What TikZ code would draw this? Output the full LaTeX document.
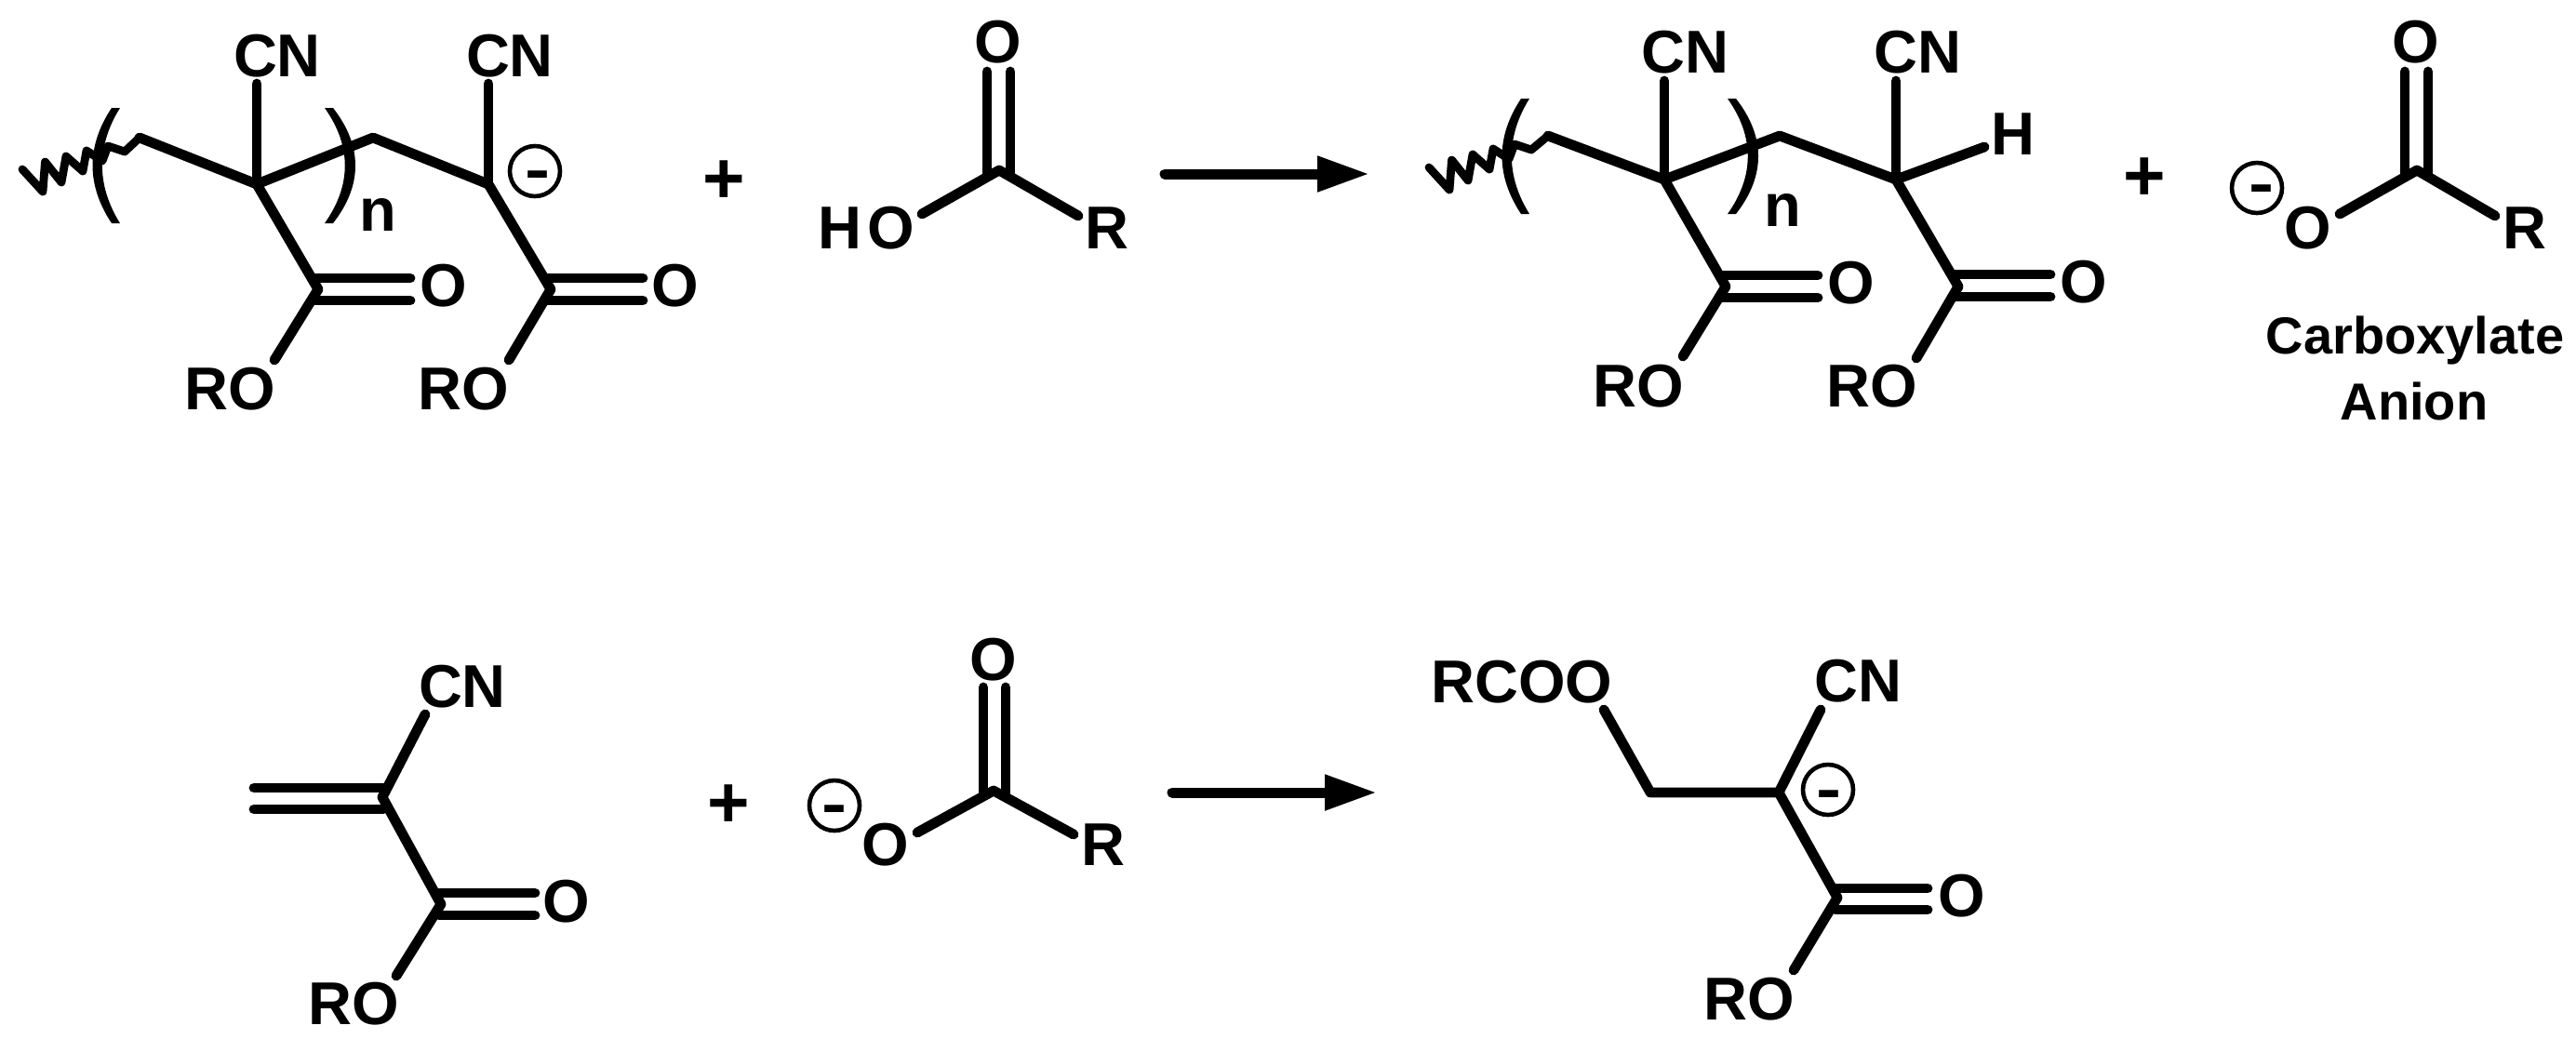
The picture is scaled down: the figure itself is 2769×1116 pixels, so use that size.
\documentclass[tikz,border=0pt]{standalone}
\usepackage{fontspec}
\setmainfont{Liberation Sans}
\usetikzlibrary{arrows.meta}
\tikzset{
  bond/.style={line width=2.7pt,line cap=round,line join=round},
  wavy/.style={line width=2.2pt,line cap=round,line join=round},
  atom/.style={font=\fontsize{16.25}{18}\selectfont\bfseries,inner sep=0pt,outer sep=0pt,anchor=base},
  caption/.style={font=\fontsize{14}{16}\selectfont\bfseries,inner sep=0pt,outer sep=0pt,anchor=base},
  plussign/.style={font=\fontsize{19.5}{20}\selectfont\bfseries,inner sep=0pt,outer sep=0pt,anchor=center},
  ring/.style={circle,draw,line width=1.15pt,minimum size=13.5pt,inner sep=0pt,outer sep=0pt},
  minussign/.style={font=\fontsize{16.25}{18}\selectfont\bfseries,inner sep=0pt,outer sep=0pt,anchor=center},
  rxn/.style={line width=2.75pt,line cap=round,-{Triangle[length=14pt,width=9pt]}}
}
\newcommand{\minusglyph}{\scalebox{1.25}[1]{-}}
\newcommand{\lparen}[2]{\fill[shift={(#1,#2)}] (120,116) .. controls (92.7,157) and (92.7,199) .. (120,240) -- (129,240) .. controls (103.5,199) and (103.5,157) .. (129,116) -- cycle;}
\newcommand{\rparen}[2]{\fill[shift={(#1,#2)}] (349,116) .. controls (378,157) and (378,199) .. (349,240) -- (358,240) .. controls (390,199) and (390,157) .. (358,116) -- cycle;}
\begin{document}
\begin{tikzpicture}[x=0.25pt,y=-0.25pt]
\path[fill=white,use as bounding box] (0,0) rectangle (2769,1116);

% ---------- top left: polymer anion
\coordinate (aw0) at (24,182);
\coordinate (a1) at (150,148);
\coordinate (a2) at (276,198);
\coordinate (a3) at (401,148);
\coordinate (a4) at (525,198);
\coordinate (a5) at (342,311);
\coordinate (a6) at (592,311);
\draw[wavy] (aw0) -- (46,206) -- (48.5,174) -- (66,196) -- (71,168) -- (89,184) -- (93,162) -- (110,173) -- (116,157) -- (134,163) -- (a1);
\draw[bond] (a1) -- (a2) -- (a3) -- (a4);
\node[atom] (acn1) at (298,82) {CN};
\node[atom] (acn2) at (548,82) {CN};
\coordinate (acn1b) at (276,90);
\coordinate (acn2b) at (525,90);
\draw[bond] (acn1b) -- (a2);
\draw[bond] (acn2b) -- (a4);
\draw[bond] (a2) -- (a5);
\draw[bond] (a4) -- (a6);
\coordinate (a5u) at (339,299); \coordinate (a5ue) at (441,299);
\coordinate (a5l) at (339,323); \coordinate (a5le) at (441,323);
\draw[bond] (a5u) -- (a5ue);
\draw[bond] (a5l) -- (a5le);
\coordinate (a6u) at (589,299); \coordinate (a6ue) at (691,299);
\coordinate (a6l) at (589,323); \coordinate (a6le) at (691,323);
\draw[bond] (a6u) -- (a6ue);
\draw[bond] (a6l) -- (a6le);
\node[atom] (ao1) at (477,329) {O};
\node[atom] (ao2) at (726,329) {O};
\coordinate (aro1b) at (295,387);
\coordinate (aro2b) at (547,387);
\draw[bond] (a5) -- (aro1b);
\draw[bond] (a6) -- (aro2b);
\node[atom] (aro1) at (247,440) {RO};
\node[atom] (aro2) at (498,440) {RO};
\lparen{0}{0}
\rparen{0}{0}
\node[atom] (an) at (406,248) {n};
\node[ring] (aring) at (575,184) {};
\node[minussign] (aminus) at (578,194.5) {\minusglyph};
\node[plussign] (plus1) at (778,196) {+};

% ---------- top middle: acid
\coordinate (b0) at (1074,183);
\coordinate (bho) at (991,230);
\coordinate (br) at (1159,232);
\coordinate (bd1) at (1061,188); \coordinate (bd1e) at (1061,77);
\coordinate (bd2) at (1086,188); \coordinate (bd2e) at (1086,77);
\draw[bond] (bho) -- (b0) -- (br);
\draw[bond] (bd1) -- (bd1e);
\draw[bond] (bd2) -- (bd2e);
\node[atom] (boa) at (1073,67) {O};
\node[atom] (bhotext) at (931,267) {H\kern1.5pt O};
\node[atom] (brtext) at (1190,267) {R};

% ---------- top arrow
\coordinate (ar1s) at (1252,187);
\coordinate (ar1e) at (1472,187);
\draw[rxn] (ar1s) -- (ar1e);

% ---------- top right: polymer
\coordinate (cw0) at (1536,180);
\coordinate (c1) at (1664,146);
\coordinate (c2) at (1789,193);
\coordinate (c3) at (1913,146);
\coordinate (c4) at (2038,193);
\coordinate (c5) at (1855,308);
\coordinate (c6) at (2105,308);
\draw[wavy] (cw0) -- (1558,204) -- (1560.5,172) -- (1578,194) -- (1583,166) -- (1601,182) -- (1605,160) -- (1622,171) -- (1628,155) -- (1646,161) -- (c1);
\draw[bond] (c1) -- (c2) -- (c3) -- (c4);
\node[atom] (ccn1) at (1811,78) {CN};
\node[atom] (ccn2) at (2061,78) {CN};
\coordinate (ccn1b) at (1789,87);
\coordinate (ccn2b) at (2038,87);
\draw[bond] (ccn1b) -- (c2);
\draw[bond] (ccn2b) -- (c4);
\coordinate (chb) at (2133,158);
\draw[bond] (c4) -- (chb);
\node[atom] (ch) at (2164,166) {H};
\draw[bond] (c2) -- (c5);
\draw[bond] (c4) -- (c6);
\coordinate (c5u) at (1852,296); \coordinate (c5ue) at (1954,296);
\coordinate (c5l) at (1852,320); \coordinate (c5le) at (1954,320);
\draw[bond] (c5u) -- (c5ue);
\draw[bond] (c5l) -- (c5le);
\coordinate (c6u) at (2102,295); \coordinate (c6ue) at (2204,295);
\coordinate (c6l) at (2102,319); \coordinate (c6le) at (2204,319);
\draw[bond] (c6u) -- (c6ue);
\draw[bond] (c6l) -- (c6le);
\node[atom] (co1) at (1990,326) {O};
\node[atom] (co2) at (2240,325) {O};
\coordinate (cro1b) at (1809,383);
\coordinate (cro2b) at (2060,385);
\draw[bond] (c5) -- (cro1b);
\draw[bond] (c6) -- (cro2b);
\node[atom] (cro1) at (1761,437) {RO};
\node[atom] (cro2) at (2012,437) {RO};
\lparen{1515}{-10}
\rparen{1508}{-10}
\node[atom] (cn) at (1916,243) {n};
\node[plussign] (plus2) at (2305,193) {+};

% ---------- far right: carboxylate
\coordinate (d0) at (2598,183);
\coordinate (do) at (2515,230);
\coordinate (dr) at (2682,232);
\coordinate (dd1) at (2585,188); \coordinate (dd1e) at (2585,77);
\coordinate (dd2) at (2610,188); \coordinate (dd2e) at (2610,77);
\draw[bond] (do) -- (d0) -- (dr);
\draw[bond] (dd1) -- (dd1e);
\draw[bond] (dd2) -- (dd2e);
\node[atom] (doa) at (2597,67) {O};
\node[atom] (dob) at (2481,267) {O};
\node[atom] (drtext) at (2714,267) {R};
\node[ring] (dring) at (2426,202) {};
\node[minussign] (dminus) at (2430.5,209.5) {\minusglyph};
\node[caption] (capa) at (2596,380) {Carboxylate};
\node[caption] (capb) at (2595,451) {Anion};

% ---------- bottom left: monomer
\coordinate (e0) at (411,857);
\coordinate (ecn) at (457,768);
\coordinate (e1) at (474,972);
\coordinate (edu) at (273,847); \coordinate (edue) at (412,847);
\coordinate (edl) at (273,870); \coordinate (edle) at (412,870);
\coordinate (e1u) at (472,960); \coordinate (e1ue) at (575,960);
\coordinate (e1l) at (472,984); \coordinate (e1le) at (575,984);
\coordinate (erob) at (426,1049);
\draw[bond] (ecn) -- (e0) -- (e1) -- (erob);
\draw[bond] (edu) -- (edue);
\draw[bond] (edl) -- (edle);
\draw[bond] (e1u) -- (e1ue);
\draw[bond] (e1l) -- (e1le);
\node[atom] (ecntext) at (497,760) {CN};
\node[atom] (eo) at (609,991) {O};
\node[atom] (erotext) at (380,1101) {RO};
\node[plussign] (plus3) at (783,867) {+};

% ---------- bottom middle: carboxylate
\coordinate (f0) at (1068,850);
\coordinate (fo) at (986,895);
\coordinate (fr) at (1154,897);
\coordinate (fd1) at (1057,855); \coordinate (fd1e) at (1057,739);
\coordinate (fd2) at (1081,855); \coordinate (fd2e) at (1081,739);
\draw[bond] (fo) -- (f0) -- (fr);
\draw[bond] (fd1) -- (fd1e);
\draw[bond] (fd2) -- (fd2e);
\node[atom] (foa) at (1068,731) {O};
\node[atom] (fob) at (952,930) {O};
\node[atom] (frtext) at (1186,930) {R};
\node[ring] (fring) at (897,866) {};
\node[minussign] (fminus) at (897,876.5) {\minusglyph};

% ---------- bottom arrow
\coordinate (ar2s) at (1260,852);
\coordinate (ar2e) at (1480,852);
\draw[rxn] (ar2s) -- (ar2e);

% ---------- bottom right: product
\coordinate (g0) at (1724,763);
\coordinate (g1) at (1774,852);
\coordinate (g2) at (1912,852);
\coordinate (gcn) at (1957,763);
\coordinate (g3) at (1975,965);
\coordinate (gu) at (1973,955); \coordinate (gue) at (2072,955);
\coordinate (gl) at (1973,978); \coordinate (gle) at (2072,978);
\coordinate (grob) at (1928,1043);
\draw[bond] (g0) -- (g1) -- (g2) -- (gcn);
\draw[bond] (g2) -- (g3) -- (grob);
\draw[bond] (gu) -- (gue);
\draw[bond] (gl) -- (gle);
\node[atom] (grcoo) at (1636,755) {RCOO};
\node[atom] (gcntext) at (1997,754) {CN};
\node[atom] (go) at (2109,985) {O};
\node[atom] (grotext) at (1880,1096) {RO};
\node[ring] (gring) at (1965,849) {};
\node[minussign] (gminus) at (1966,860.5) {\minusglyph};
\end{tikzpicture}
\end{document}
